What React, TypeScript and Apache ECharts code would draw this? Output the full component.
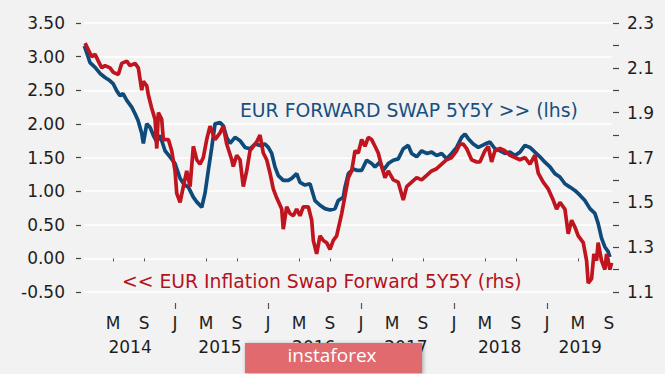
import React, { useEffect, useRef } from "react";
import * as echarts from "echarts";

// x = months since Jan 2014
const BLUE_MONTHS = [
  0.3, 1.03, 1.68, 2.32, 2.97, 3.61, 4.0, 4.48, 4.9, 5.29,
  5.77, 6.41, 6.84, 7.23, 7.7, 7.91, 8.35, 8.77, 9.2, 9.64,
  10.06, 10.71, 11.35, 12.0, 12.65, 13.16, 13.72, 14.36, 14.8, 15.45,
  15.87, 16.3, 16.74, 17.16, 17.81, 18.23, 18.67, 19.1, 19.74, 20.39,
  21.03, 21.68, 22.32, 22.97, 23.61, 24.04, 24.48, 24.9, 25.33, 25.97,
  26.62, 27.06, 27.7, 28.13, 28.77, 29.42, 30.06, 30.71, 31.35, 32.0,
  32.65, 33.07, 33.72, 33.94, 34.37, 35.01, 35.45, 36.1, 36.74, 37.38,
  37.81, 38.45, 38.88, 39.52, 40.17, 40.81, 41.46, 42.1, 42.54, 43.19,
  43.83, 44.48, 45.12, 45.77, 46.41, 47.06, 47.7, 48.35, 48.99, 49.42,
  49.85, 50.49, 51.14, 52.0, 52.65, 53.29, 53.94, 54.58, 55.23, 55.87,
  56.52, 57.16, 57.81, 58.45, 59.1, 59.74, 60.39, 61.03, 61.68, 62.32,
  62.97, 63.61, 64.26, 64.9, 65.55, 66.19, 66.61, 67.05, 67.48, 67.9,
  68.13,
];
const BLUE_VALUES = [
  3.16, 2.91, 2.84, 2.75, 2.69, 2.64, 2.6, 2.49, 2.42, 2.45,
  2.35, 2.25, 2.15, 2.05, 1.86, 1.71, 2.0, 1.95, 1.83, 1.73,
  1.83, 1.6, 1.51, 1.41, 1.19, 1.1, 1.06, 0.91, 0.84, 0.76,
  0.97, 1.31, 1.65, 2.0, 2.02, 1.97, 1.8, 1.71, 1.8, 1.75,
  1.65, 1.63, 1.7, 1.68, 1.7, 1.65, 1.56, 1.36, 1.23, 1.16,
  1.16, 1.19, 1.26, 1.13, 1.09, 1.11, 0.86, 0.79, 0.74, 0.72,
  0.74, 0.86, 0.91, 1.06, 1.26, 1.33, 1.31, 1.31, 1.46, 1.41,
  1.36, 1.43, 1.31, 1.41, 1.46, 1.48, 1.63, 1.68, 1.56, 1.51,
  1.6, 1.56, 1.58, 1.53, 1.56, 1.48, 1.56, 1.65, 1.8, 1.85,
  1.78, 1.7, 1.65, 1.7, 1.73, 1.63, 1.6, 1.56, 1.58, 1.53,
  1.58, 1.68, 1.65, 1.58, 1.51, 1.43, 1.36, 1.26, 1.21, 1.11,
  1.06, 1.01, 0.94, 0.86, 0.74, 0.67, 0.52, 0.3, 0.17, 0.1,
  0.02,
];
const RED_MONTHS = [
  0.39, 0.81, 1.25, 1.68, 2.1, 2.54, 2.97, 3.61, 4.04, 4.68,
  5.12, 5.77, 6.19, 6.84, 7.26, 7.48, 7.7, 7.91, 8.35, 8.55,
  8.99, 9.42, 9.64, 9.85, 10.28, 10.49, 11.14, 11.57, 12.0, 12.22,
  12.65, 13.07, 13.51, 13.94, 14.36, 14.8, 15.23, 15.65, 16.09, 16.52,
  17.16, 17.81, 18.23, 18.67, 19.32, 19.52, 19.96, 20.39, 20.81, 21.25,
  21.68, 22.1, 22.54, 22.97, 23.39, 23.83, 24.26, 24.68, 25.12, 25.77,
  25.97, 26.41, 26.84, 27.27, 27.7, 28.13, 28.55, 29.2, 29.64, 29.85,
  30.28, 30.71, 31.14, 31.57, 32.0, 32.43, 32.86, 33.51, 33.94, 34.37,
  34.8, 35.23, 35.65, 36.09, 36.52, 36.94, 37.38, 37.81, 38.23, 38.67,
  39.1, 39.52, 40.17, 40.81, 41.46, 41.9, 42.54, 43.19, 43.83, 44.48,
  45.12, 45.77, 46.41, 47.06, 47.7, 48.35, 48.77, 49.2, 49.64, 50.28,
  50.93, 51.35, 52.0, 52.43, 52.86, 53.29, 53.94, 54.58, 55.23, 55.87,
  56.52, 57.16, 57.81, 58.45, 58.88, 59.52, 60.17, 60.81, 61.25, 61.68,
  62.32, 62.75, 63.19, 63.61, 64.04, 64.69, 65.12, 65.33, 65.77, 66.06,
  66.41, 66.61, 67.05, 67.48, 67.7, 68.13, 68.35,
];
const RED_VALUES = [
  2.21, 2.18, 2.15, 2.16, 2.13, 2.1, 2.11, 2.1, 2.08, 2.07,
  2.12, 2.13, 2.11, 2.12, 2.1, 2.05, 2.0, 2.04, 2.02, 1.98,
  1.92, 1.87, 1.74, 1.9, 1.87, 1.78, 1.78, 1.73, 1.64, 1.54,
  1.5, 1.57, 1.64, 1.57, 1.75, 1.69, 1.67, 1.7, 1.78, 1.84,
  1.78, 1.81, 1.84, 1.76, 1.69, 1.66, 1.71, 1.69, 1.57, 1.64,
  1.73, 1.75, 1.77, 1.8, 1.72, 1.69, 1.63, 1.56, 1.52, 1.47,
  1.38, 1.48, 1.45, 1.44, 1.47, 1.44, 1.48, 1.48, 1.42, 1.33,
  1.27, 1.35, 1.33, 1.32, 1.29, 1.33, 1.35, 1.45, 1.53, 1.61,
  1.64, 1.73, 1.72, 1.78, 1.75, 1.79, 1.78, 1.75, 1.72, 1.66,
  1.61, 1.64, 1.6, 1.59, 1.51, 1.57, 1.59, 1.61, 1.6, 1.62,
  1.64, 1.65, 1.67, 1.69, 1.7, 1.73, 1.76, 1.76, 1.74, 1.69,
  1.68, 1.68, 1.73, 1.75, 1.68, 1.73, 1.74, 1.73, 1.71, 1.7,
  1.69, 1.7, 1.67, 1.71, 1.63, 1.59, 1.56, 1.51, 1.47, 1.5,
  1.47, 1.36, 1.42, 1.39, 1.35, 1.32, 1.24, 1.14, 1.16, 1.27,
  1.24, 1.32, 1.24, 1.2, 1.27, 1.2, 1.23,
];

const MONTH_TICKS = [4, 8, 12, 16, 20, 24, 28, 32, 36, 40, 44, 48, 52, 56, 60, 64, 68];
const MONTH_LETTERS = ["J", "M", "S"];
const JAN_TICKS = [12, 24, 36, 48, 60];
const YEAR_LABELS = ["2014", "2015", "2016", "2017", "2018", "2019"];
const YEAR_POSITIONS = [6.2, 17.8, 29.9, 41.8, 53.9, 64.3];

const BLUE_LABEL = "EUR FORWARD SWAP 5Y5Y >> (lhs)";
const RED_LABEL = "<< EUR Inflation Swap Forward 5Y5Y (rhs)";
const WATERMARK = "instaforex";

const FONT = "DejaVu Sans";
const X_MIN = 0.25;
const X_MAX = 68.4;

export default function App() {
  const ref = useRef<HTMLDivElement>(null);
  useEffect(() => {
    if (!ref.current) return;
    const chart = echarts.init(ref.current, undefined, { renderer: "svg" });
    const labelStyle = { color: "#1e1e1e", fontSize: 17, fontFamily: FONT };
    const baseX = {
      type: "value" as const,
      min: X_MIN,
      max: X_MAX,
      position: "bottom" as const,
      offset: 11,
      axisLine: { show: false },
      splitLine: { show: false },
    };
    chart.setOption({
      animation: false,
      backgroundColor: "#f2f2f2",
      grid: { left: 84, right: 53, top: 23, bottom: 82 },
      xAxis: [
        {
          ...baseX,
          axisTick: {
            show: true,
            customValues: MONTH_TICKS.filter((v) => v % 12 !== 0),
            length: 3,
            lineStyle: { color: "#555", width: 1 },
          },
          axisLabel: {
            ...labelStyle,
            customValues: MONTH_TICKS,
            margin: 11,
            formatter: (v: number) => MONTH_LETTERS[(Math.round(v) % 12) / 4] || "",
          },
        },
        {
          ...baseX,
          axisTick: {
            show: true,
            customValues: JAN_TICKS,
            length: 6,
            lineStyle: { color: "#555", width: 1.2 },
          },
          axisLabel: { show: false },
        },
        {
          ...baseX,
          axisTick: { show: false },
          axisLabel: {
            ...labelStyle,
            customValues: YEAR_POSITIONS,
            margin: 35,
            formatter: (v: number) => {
              let best = 0;
              YEAR_POSITIONS.forEach((p, i) => {
                if (Math.abs(p - v) < Math.abs(YEAR_POSITIONS[best] - v)) best = i;
              });
              return YEAR_LABELS[best];
            },
          },
        },
      ],
      yAxis: [
        {
          type: "value",
          min: -0.5,
          max: 3.5,
          interval: 0.5,
          position: "left",
          offset: 3,
          axisLine: { show: false },
          axisTick: { show: true, length: 5, lineStyle: { color: "#444", width: 1.2 } },
          axisLabel: { ...labelStyle, margin: 16, formatter: (v: number) => v.toFixed(2) },
          splitLine: { show: true, lineStyle: { color: "#ffffff", width: 1.5 } },
        },
        {
          type: "value",
          min: 1.1,
          max: 2.3,
          interval: 0.1,
          position: "right",
          offset: 1,
          axisLine: { show: false },
          axisTick: { show: true, length: 6, lineStyle: { color: "#444", width: 1.2 } },
          axisLabel: {
            ...labelStyle,
            margin: 14,
            formatter: (v: number) => (Math.round(v * 10) % 2 === 1 ? v.toFixed(1) : ""),
          },
          splitLine: { show: false },
        },
      ],
      series: [
        {
          name: "EUR Forward Swap 5Y5Y",
          type: "line",
          xAxisIndex: 0,
          yAxisIndex: 0,
          data: BLUE_MONTHS.map((m, i) => [m, BLUE_VALUES[i]]),
          showSymbol: false,
          lineStyle: { color: "#0e4a7a", width: 3.7 },
          itemStyle: { color: "#0e4a7a" },
          z: 2,
        },
        {
          name: "EUR Inflation Swap Forward 5Y5Y",
          type: "line",
          xAxisIndex: 0,
          yAxisIndex: 1,
          data: RED_MONTHS.map((m, i) => [m, RED_VALUES[i]]),
          showSymbol: false,
          lineStyle: { color: "#c0141e", width: 3.7 },
          itemStyle: { color: "#c0141e" },
          z: 3,
        },
      ],
      graphic: [
        {
          type: "text",
          x: 240,
          y: 110.5,
          z: 10,
          style: {
            text: BLUE_LABEL,
            fill: "#174f7f",
            fontSize: 18.8,
            fontFamily: FONT,
            align: "left",
            verticalAlign: "middle",
          },
        },
        {
          type: "text",
          x: 122,
          y: 281,
          z: 10,
          style: {
            text: RED_LABEL,
            fill: "#b3131c",
            fontSize: 18.8,
            fontFamily: FONT,
            align: "left",
            verticalAlign: "middle",
          },
        },
        {
          type: "rect",
          z: 20,
          shape: { x: 245, y: 343, width: 177, height: 30 },
          style: {
            fill: "#e06b6e",
            shadowBlur: 4,
            shadowColor: "rgba(0,0,0,0.35)",
            shadowOffsetX: 1,
            shadowOffsetY: 1,
          },
        },
        {
          type: "text",
          x: 332,
          y: 355,
          z: 21,
          style: {
            text: WATERMARK,
            fill: "#ffffff",
            fontSize: 19,
            fontFamily: "Open Sans",
            align: "center",
            verticalAlign: "middle",
          },
        },
      ],
    });
    return () => chart.dispose();
  }, []);
  return (
    <div
      ref={ref}
      style={{ position: "fixed", left: 0, top: 0, width: 665, height: 374 }}
    />
  );
}
